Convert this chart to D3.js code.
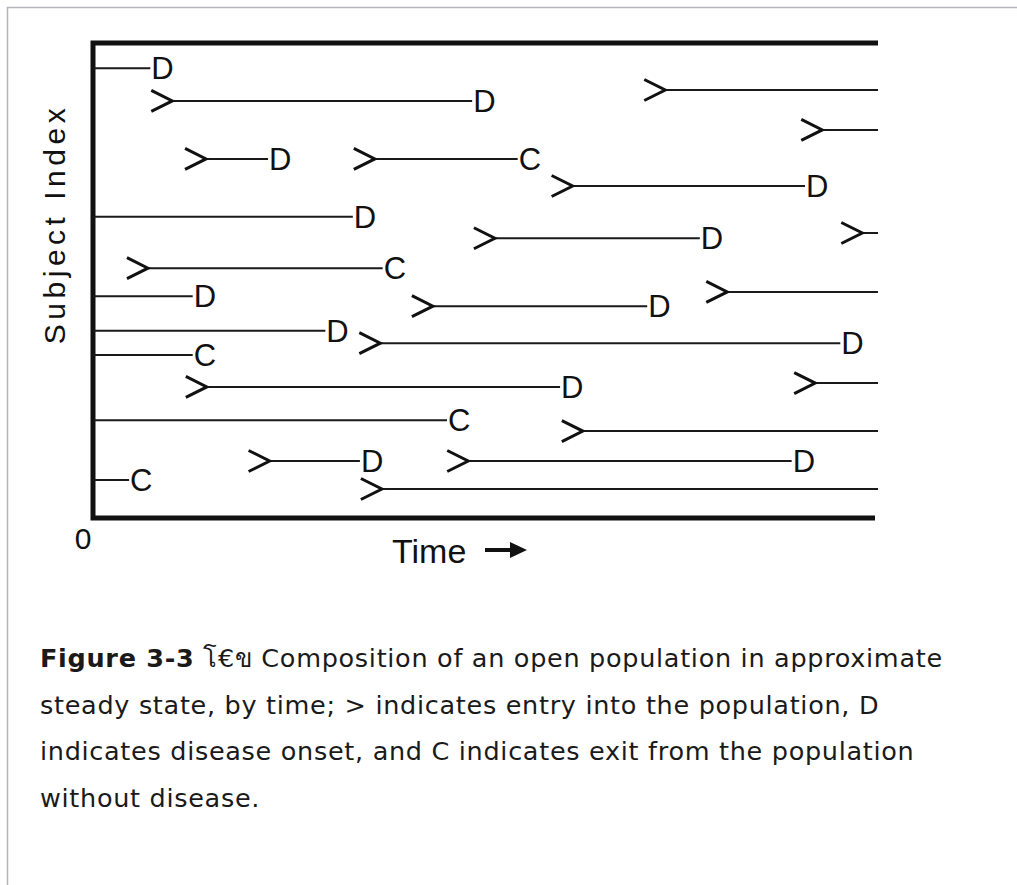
<!DOCTYPE html>
<html>
<head>
<meta charset="utf-8">
<script src="https://cdn.jsdelivr.net/npm/d3@7"></script>
<style>
  html, body { margin: 0; padding: 0; background: #fff; }
  svg { display: block; }
</style>
</head>
<body>
<div id="chart"></div>
<script>
const width = 1017;
const height = 885;

// one entry per follow-up segment; null entry = already in at time 0,
// null exit = still followed at the end of the window
const subjectIndex = [94.7, 90.1, 87.8, 81.7, 75.6, 75.6, 69.9, 63.4, 60.0, 58.9, 52.6, 47.6,
    46.7, 44.6, 39.4, 36.8, 34.3, 28.4, 27.6, 20.6, 18.3, 12.0, 12.0, 8.0, 6.1];
const entryTimes = [null, 72.9, 10.1, 92.9, 14.4, 35.9, 61.1, null, 98.0, 51.2, 7.0, 80.8,
    null, 43.3, null, 36.6, null, 92.0, 14.5, null, 62.4, 22.5, 47.8, null, 36.8];
const exitTimes = [7.3, null, 48.3, null, 22.3, 54.1, 90.7, 33.1, null, 77.3, 36.9, null,
    12.7, 70.6, 29.6, 95.2, 12.7, null, 59.5, 45.1, null, 34.0, 89.0, 4.6, null];
const outcomes = ["D", "", "D", "", "D", "C", "D", "D", "", "D", "C", "",
    "D", "D", "D", "D", "C", "", "D", "C", "", "D", "D", "C", ""];

const captionLines = [
    "Composition of an open population in approximate",
    "steady state, by time; > indicates entry into the population, D",
    "indicates disease onset, and C indicates exit from the population",
    "without disease."
];

const segments = subjectIndex.map((s, i) => ({
    s: s, start: entryTimes[i], end: exitTimes[i], outcome: outcomes[i]
}));

const svg = d3.select("#chart")
    .append("svg")
    .attr("width", width)
    .attr("height", height);

// page frame
svg.append("path")
    .attr("d", `M7.5,${height} V7.5 H${width}`)
    .attr("fill", "none")
    .attr("stroke", "#b4b4bc")
    .attr("stroke-width", 1.5);

const x = d3.scaleLinear().domain([0, 100]).range([93, 878]);
const y = d3.scaleLinear().domain([0, 100]).range([518, 43]);

const ink = "#111";

// axes frame (left, top, bottom)
svg.append("path")
    .attr("d", `M${x(100)},${y(100)} H${x(0)} V${y(0)} H${x(100) - 3}`)
    .attr("fill", "none")
    .attr("stroke", ink)
    .attr("stroke-width", 5)
    .attr("stroke-linejoin", "miter");

const g = svg.append("g");

g.selectAll("line.seg")
    .data(segments)
    .join("line")
    .attr("class", "seg")
    .attr("x1", d => x(d.start === null ? 0 : d.start))
    .attr("x2", d => x(d.end === null ? 100 : d.end))
    .attr("y1", d => y(d.s))
    .attr("y2", d => y(d.s))
    .attr("stroke", "#1a1a1a")
    .attr("stroke-width", 2);

// entry chevrons
g.selectAll("path.entry")
    .data(segments.filter(d => d.start !== null))
    .join("path")
    .attr("class", "entry")
    .attr("d", d => {
        const px = x(d.start), py = y(d.s);
        return `M${px - 21},${py - 10.5} L${px},${py} L${px - 21},${py + 10.5}`;
    })
    .attr("fill", "none")
    .attr("stroke", ink)
    .attr("stroke-width", 3);

// outcome letters
g.selectAll("text.outcome")
    .data(segments.filter(d => d.outcome))
    .join("text")
    .attr("class", "outcome")
    .attr("x", d => x(d.end) + 1)
    .attr("y", d => y(d.s))
    .attr("dy", "0.36em")
    .attr("font-family", "Liberation Sans, Arial, sans-serif")
    .attr("font-size", 31)
    .attr("fill", ink)
    .text(d => d.outcome);

// origin
svg.append("text")
    .attr("x", 83)
    .attr("y", 549)
    .attr("text-anchor", "middle")
    .attr("font-family", "Liberation Sans, Arial, sans-serif")
    .attr("font-size", 30)
    .attr("fill", ink)
    .text("0");

// x label with arrow
svg.append("text")
    .attr("x", 392)
    .attr("y", 563)
    .attr("font-family", "Liberation Sans, Arial, sans-serif")
    .attr("font-size", 34)
    .attr("fill", ink)
    .text("Time");

svg.append("path")
    .attr("d", "M485,550 H514")
    .attr("stroke", ink)
    .attr("stroke-width", 4);
svg.append("path")
    .attr("d", "M510,542 L527,550 L510,558 Z")
    .attr("fill", ink);

// y label
svg.append("text")
    .attr("transform", "translate(65,224) rotate(-90)")
    .attr("text-anchor", "middle")
    .attr("font-family", "Liberation Sans, Arial, sans-serif")
    .attr("font-size", 30)
    .attr("letter-spacing", "4.5px")
    .attr("fill", ink)
    .text("Subject Index");

// caption
const cap = svg.append("g")
    .attr("font-family", "DejaVu Sans, Verdana, sans-serif")
    .attr("font-size", 25.5)
    .attr("letter-spacing", "0.7px")
    .attr("fill", "#1a1a1a");

const first = cap.append("text").attr("x", 40).attr("y", 667);
first.append("tspan").attr("font-weight", "bold").text("Figure 3-3");
first.append("tspan").text(" \u0E42\u20AC\u0E02 " + captionLines[0]);

cap.selectAll("text.more")
    .data(captionLines.slice(1))
    .join("text")
    .attr("class", "more")
    .attr("x", 40)
    .attr("y", (d, i) => 667 + 46.7 * (i + 1))
    .text(d => d);
</script>
</body>
</html>
